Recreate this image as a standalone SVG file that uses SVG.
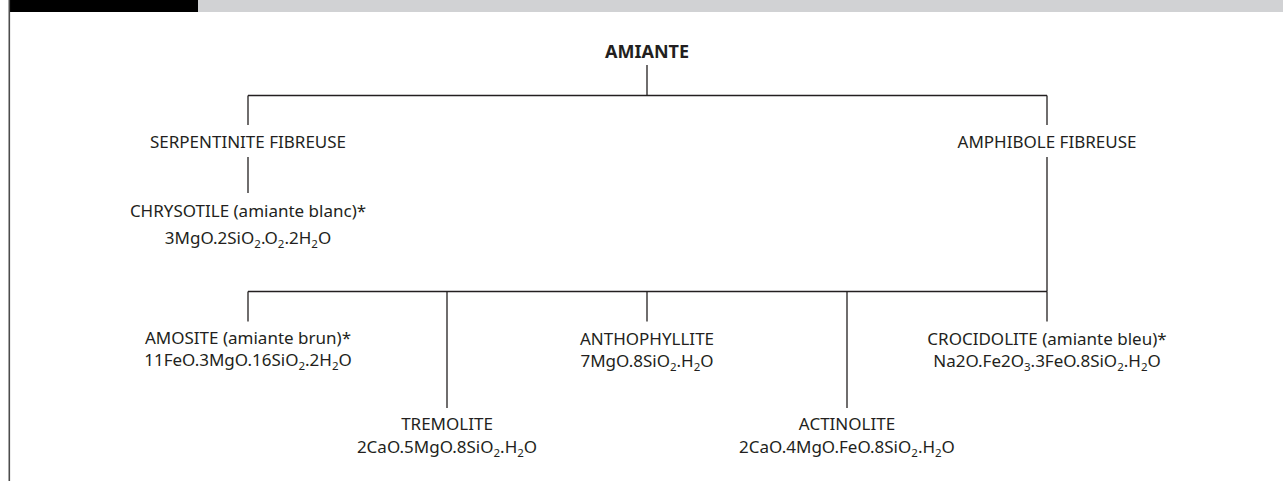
<svg xmlns="http://www.w3.org/2000/svg" width="1283" height="481" viewBox="0 0 1283 481">
<style>
text{font-family:"Noto Sans","Liberation Sans",Arial,sans-serif;font-size:17px;fill:#231f20;text-anchor:middle}
.b{font-weight:bold;font-size:18px}
.s{font-size:11.5px}
#connectors line{stroke:#231f20;stroke-width:1.3;fill:none}
</style>
<rect x="0" y="0" width="1283" height="481" fill="#ffffff"/>
<rect x="9" y="0" width="189" height="12" fill="#000000"/>
<rect x="198" y="0" width="1085" height="12" fill="#d1d2d4"/>
<line x1="9.3" y1="0" x2="9.3" y2="481" stroke="#4d4d4d" stroke-width="1.6"/>
<g id="connectors">
<line x1="647" y1="65" x2="647" y2="95.5"/>
<line x1="248" y1="95.5" x2="1047" y2="95.5"/>
<line x1="248" y1="95.5" x2="248" y2="125"/>
<line x1="1047" y1="95.5" x2="1047" y2="125"/>
<line x1="248" y1="157" x2="248" y2="193"/>
<line x1="1047" y1="157" x2="1047" y2="291.5"/>
<line x1="248" y1="291.5" x2="1047" y2="291.5"/>
<line x1="248" y1="291.5" x2="248" y2="321.5"/>
<line x1="447" y1="291.5" x2="447" y2="408"/>
<line x1="647" y1="291.5" x2="647" y2="321.5"/>
<line x1="847" y1="291.5" x2="847" y2="408"/>
<line x1="1047" y1="291.5" x2="1047" y2="321.5"/>
</g>
<g id="amiante"><text class="b" x="647" y="57.5">AMIANTE</text></g>
<g id="serpentinite"><text x="248" y="148">SERPENTINITE FIBREUSE</text></g>
<g id="amphibole"><text x="1047" y="148">AMPHIBOLE FIBREUSE</text></g>
<g id="chrysotile">
<text x="248" y="217">CHRYSOTILE (amiante blanc)*</text>
<text x="248" y="244">3MgO.2SiO<tspan class="s" dy="4">2</tspan><tspan dy="-4">.O</tspan><tspan class="s" dy="4">2</tspan><tspan dy="-4">.2H</tspan><tspan class="s" dy="4">2</tspan><tspan dy="-4">O</tspan></text>
</g>
<g id="amosite">
<text x="248" y="344">AMOSITE (amiante brun)*</text>
<text x="248" y="366">11FeO.3MgO.16SiO<tspan class="s" dy="4">2</tspan><tspan dy="-4">.2H</tspan><tspan class="s" dy="4">2</tspan><tspan dy="-4">O</tspan></text>
</g>
<g id="anthophyllite">
<text x="647" y="345">ANTHOPHYLLITE</text>
<text x="647" y="367">7MgO.8SiO<tspan class="s" dy="4">2</tspan><tspan dy="-4">.H</tspan><tspan class="s" dy="4">2</tspan><tspan dy="-4">O</tspan></text>
</g>
<g id="crocidolite">
<text x="1047" y="345">CROCIDOLITE (amiante bleu)*</text>
<text x="1047" y="367">Na2O.Fe2O<tspan class="s" dy="4">3</tspan><tspan dy="-4">.3FeO.8SiO</tspan><tspan class="s" dy="4">2</tspan><tspan dy="-4">.H</tspan><tspan class="s" dy="4">2</tspan><tspan dy="-4">O</tspan></text>
</g>
<g id="tremolite">
<text x="447" y="430">TREMOLITE</text>
<text x="447" y="453">2CaO.5MgO.8SiO<tspan class="s" dy="4">2</tspan><tspan dy="-4">.H</tspan><tspan class="s" dy="4">2</tspan><tspan dy="-4">O</tspan></text>
</g>
<g id="actinolite">
<text x="847" y="430">ACTINOLITE</text>
<text x="847" y="453">2CaO.4MgO.FeO.8SiO<tspan class="s" dy="4">2</tspan><tspan dy="-4">.H</tspan><tspan class="s" dy="4">2</tspan><tspan dy="-4">O</tspan></text>
</g>
</svg>
